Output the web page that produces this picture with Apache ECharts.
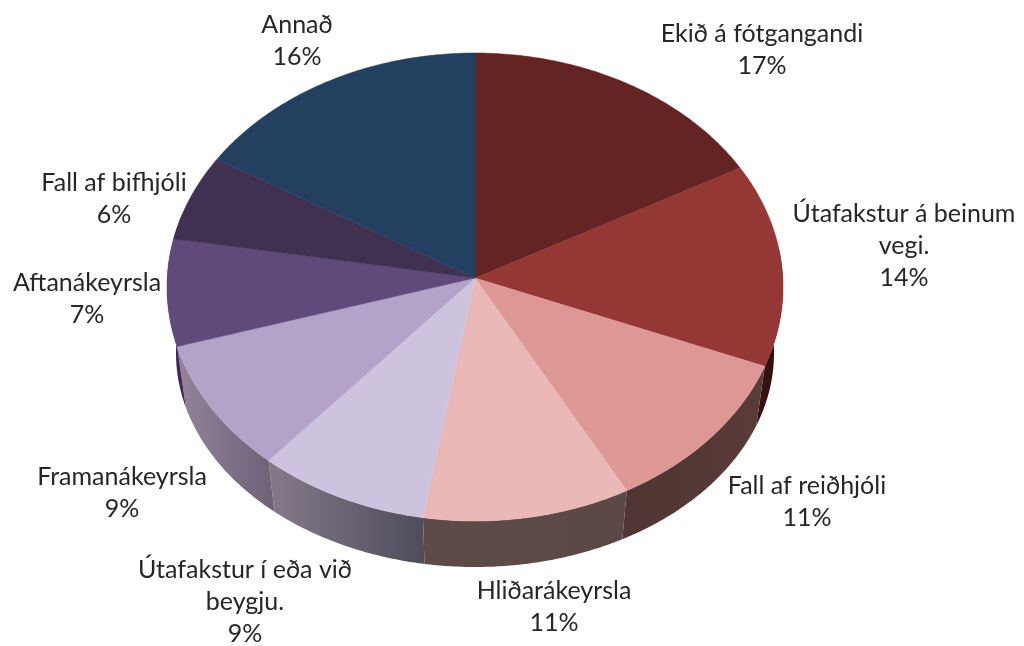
<!DOCTYPE html>
<html>
<head>
<meta charset="utf-8">
<style>html,body{margin:0;padding:0;background:#fff}#c{width:1024px;height:646px}</style>
<script src="https://cdn.jsdelivr.net/npm/echarts@6/dist/echarts.min.js"></script>
</head>
<body>
<div id="c"></div>
<script>
const categories = ['Ekið á fótgangandi','Útafakstur á beinum\nvegi.','Fall af reiðhjóli','Hliðarákeyrsla','Útafakstur í eða við\nbeygju.','Framanákeyrsla','Aftanákeyrsla','Fall af bifhjóli','Annað'];
const values = [16.5,14,11.3,10.9,9,9.2,7.4,5.9,15.8];
const topColors = ['#632423','#953735','#DD9896','#EAB9B7','#CEC3DE','#B3A3C8','#604A7B','#403152','#244061'];
const sideColors = [
  ['#3a1212','#3a1212'],['#3a1313','#2e0e0e'],['#4f3533','#5a3c39'],['#5e4a47','#5c4845'],
  ['#857a8a','#4f4c5c'],['#93849a','#6d6078'],['#3d2a5a','#3d2a5a'],['#2a1f38','#2a1f38'],['#16283e','#16283e']
];
const labelCenters = [[762,50],[904,246],[807,502],[554,607],[245,602],[122,493],[87,299],[114,199],[297,41]];

const apex = [475,278];
const topEllipse = {cx:475, cy:287, rx:308, ry:234};
const bottomEllipse = {cx:475, cy:353, rx:299, ry:214};
const total = values.reduce((a,b)=>a+b,0);
const cum = [0];
values.forEach(v=>cum.push(cum[cum.length-1]+v));
const angle = p => p/total*Math.PI*2;
const pt = (e,t)=>[e.cx+e.rx*Math.sin(t), e.cy-e.ry*Math.cos(t)];
function arc(e,a,b){
  const n=Math.max(2,Math.ceil((b-a)/0.01)), out=[];
  for(let i=0;i<=n;i++) out.push(pt(e,a+(b-a)*i/n));
  return out;
}
const sideStart=Math.PI*0.45, sideEnd=Math.PI*1.6;
function renderSide(params){
  const i=params.dataIndex;
  const a=Math.max(angle(cum[i]),sideStart), b=Math.min(angle(cum[i+1]),sideEnd);
  if(b<=a) return {type:'group',children:[]};
  const pts=arc(topEllipse,a,b).concat(arc(bottomEllipse,a,b).reverse());
  return {type:'polygon',shape:{points:pts},silent:true,style:{
    fill:{type:'linear',x:0,y:0,x2:1,y2:0,colorStops:[{offset:0,color:sideColors[i][0]},{offset:1,color:sideColors[i][1]}]},
    stroke:null}};
}
function renderTop(params){
  const i=params.dataIndex;
  const pts=[apex].concat(arc(topEllipse,angle(cum[i]),angle(cum[i+1])));
  return {type:'polygon',shape:{points:pts},silent:true,style:{fill:topColors[i],stroke:topColors[i],lineWidth:0.5}};
}
function renderLabel(params){
  const i=params.dataIndex;
  const pct=Math.round(Math.round(values[i]/total*1000)/10);
  return {type:'text',silent:true,x:labelCenters[i][0],y:labelCenters[i][1],style:{
    text:categories[i]+'\n'+pct+'%',
    x:0,y:0,align:'center',verticalAlign:'middle',
    font:'25px Lato',lineHeight:32,fill:'#262626'}};
}
const seriesData=values.map((v,i)=>({name:categories[i],value:[i,v]}));
const chart=echarts.init(document.getElementById('c'),null,{renderer:'canvas'});
chart.setOption({
  animation:false,
  backgroundColor:'#fff',
  series:[
    {type:'custom',coordinateSystem:'none',renderItem:renderSide,data:seriesData,z:1},
    {type:'custom',coordinateSystem:'none',renderItem:renderTop,data:seriesData,z:2},
    {type:'custom',coordinateSystem:'none',renderItem:renderLabel,data:seriesData,z:3}
  ]
});
</script>
</body>
</html>
